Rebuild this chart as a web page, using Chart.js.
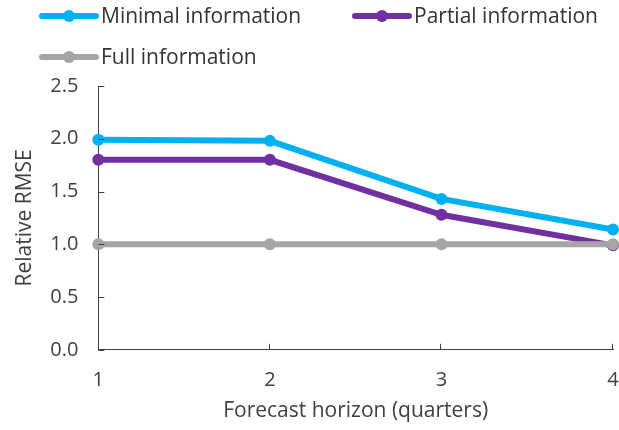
<!DOCTYPE html>
<html>
<head>
<meta charset="utf-8">
<script src="https://cdn.jsdelivr.net/npm/chart.js@4.4.1/dist/chart.umd.min.js"></script>
<style>
  html, body { margin: 0; padding: 0; background: #fff; }
  #wrap { width: 619px; height: 430px; }
</style>
</head>
<body>
<div id="wrap"><canvas id="c" width="619" height="430"></canvas></div>
<script>
// Forecast horizons (quarters)
const horizons = ['1', '2', '3', '4'];
// Relative RMSE by information set
const minimalInfo = [1.99, 1.98, 1.43, 1.14];
const partialInfo = [1.80, 1.80, 1.28, 0.99];
const fullInfo = [1.00, 1.00, 1.00, 1.00];
const yTicks = [0, 0.5, 1.0, 1.5, 2.0, 2.5];

const FONT = '"Open Sans", sans-serif';
const TEXT = '#404040';
const AXIS = '#404040';

// Legend laid out in two rows above the plot
const legendSlots = [
  { x: 40, y: 16 },
  { x: 353, y: 16 },
  { x: 40, y: 57 }
];

const legendPlugin = {
  id: 'rowLegend',
  afterDraw(chart) {
    const ctx = chart.ctx;
    ctx.save();
    chart.data.datasets.forEach((ds, i) => {
      const s = legendSlots[i];
      ctx.strokeStyle = ds.borderColor;
      ctx.lineWidth = 6;
      ctx.lineCap = 'round';
      ctx.beginPath();
      ctx.moveTo(s.x + 2, s.y);
      ctx.lineTo(s.x + 56, s.y);
      ctx.stroke();
      ctx.fillStyle = ds.borderColor;
      ctx.beginPath();
      ctx.arc(s.x + 29, s.y, 6, 0, Math.PI * 2);
      ctx.fill();
      ctx.fillStyle = '#333333';
      ctx.font = '21px ' + FONT;
      ctx.textBaseline = 'middle';
      ctx.textAlign = 'left';
      ctx.fillText(ds.label, s.x + 61, s.y + 1);
    });
    ctx.restore();
  }
};

// Short tick marks pointing into the plot area
const innerTicks = {
  id: 'innerTicks',
  afterDatasetsDraw(chart) {
    const ctx = chart.ctx;
    const xs = chart.scales.x, ys = chart.scales.y;
    const area = chart.chartArea;
    ctx.save();
    ctx.strokeStyle = AXIS;
    ctx.lineWidth = 1;
    ys.ticks.forEach(t => {
      const py = Math.round(ys.getPixelForValue(t.value)) + 0.5;
      ctx.beginPath();
      ctx.moveTo(area.left, py);
      ctx.lineTo(area.left + 6, py);
      ctx.stroke();
    });
    horizons.forEach((h, i) => {
      if (i === 0) return; // first category sits on the y axis
      const px = Math.round(xs.getPixelForValue(i)) - 0.5;
      ctx.beginPath();
      ctx.moveTo(px, area.bottom);
      ctx.lineTo(px, area.bottom - 6);
      ctx.stroke();
    });
    ctx.restore();
  }
};

function series(label, data, color, order) {
  return {
    label, data, order,
    borderColor: color,
    backgroundColor: color,
    borderWidth: 6,
    pointRadius: 6,
    pointHoverRadius: 6,
    pointBorderWidth: 0,
    pointBackgroundColor: color,
    tension: 0,
    clip: false
  };
}

new Chart(document.getElementById('c'), {
  type: 'line',
  data: {
    labels: horizons,
    datasets: [
      series('Minimal information', minimalInfo, '#00B0F0', 2),
      series('Partial information', partialInfo, '#7030A0', 1),
      series('Full information', fullInfo, '#A5A5A5', 0)
    ]
  },
  options: {
    responsive: false,
    animation: false,
    devicePixelRatio: 1,
    layout: { padding: { top: 86, right: 5, left: 12, bottom: 6 } },
    plugins: { legend: { display: false }, tooltip: { enabled: false } },
    scales: {
      x: {
        type: 'category',
        offset: false,
        afterFit(scale) { scale.paddingRight = 0; },
        grid: { display: true, drawOnChartArea: false, drawTicks: false, color: AXIS },
        border: { display: true, color: AXIS, width: 1 },
        ticks: { color: TEXT, font: { family: FONT, size: 20 }, padding: 18, maxRotation: 0 },
        title: { display: true, text: 'Forecast horizon (quarters)', color: TEXT,
                 font: { family: FONT, size: 21 }, padding: { top: -11, bottom: 0 } }
      },
      y: {
        min: 0, max: 2.5,
        afterBuildTicks(scale) { scale.ticks = yTicks.map(v => ({ value: v })); },
        grid: { display: true, drawOnChartArea: false, drawTicks: false, color: AXIS },
        border: { display: true, color: AXIS, width: 1 },
        ticks: { color: TEXT, font: { family: FONT, size: 20 }, padding: 20,
                 callback: v => Number(v).toFixed(1) },
        title: { display: true, text: 'Relative RMSE', color: TEXT,
                 font: { family: FONT, size: 21 }, padding: { top: 0, bottom: -7 } }
      }
    }
  },
  plugins: [legendPlugin, innerTicks]
});
</script>
</body>
</html>
